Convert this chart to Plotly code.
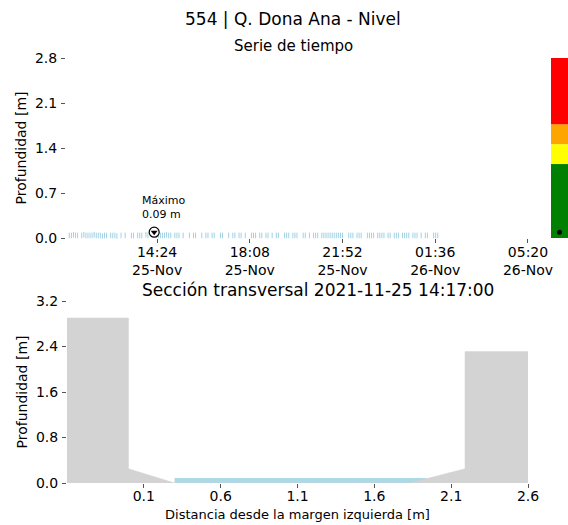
import pandas as pd
import plotly.graph_objects as go

# ---------------- data ----------------
title_main = "554 | Q. Dona Ana - Nivel"
title_ts = "Serie de tiempo"
title_xs = "Sección transversal 2021-11-25 14:17:00"

# time series (5-min sampling from 2021-11-25 10:42)
ts_start = "2021-11-25 10:42"
ts_values = [
    0.01, None, 0.04, 0.04, 0.05, 0.04, 0.04, None, 0.04, 0.05, 0.04, 0.04,
    0.04, 0.04, 0.05, 0.04, 0.04, 0.04, 0.03, 0.04, 0.04, None, 0.04, 0.04,
    0.04, 0.03, None, 0.04, None, 0.04, None, None, 0.04, 0.04, None, 0.04,
    0.04, 0.04, None, 0.05, 0.04, None, None, 0.09, 0.05, 0.04, 0.04, 0.04,
    0.04, 0.05, 0.04, 0.04, None, 0.04, 0.04, 0.04, None, 0.04, None, None,
    0.04, None, 0.04, 0.04, None, None, 0.04, None, 0.04, 0.04, None, 0.04,
    0.04, None, None, 0.04, 0.04, None, None, 0.04, None, 0.04, 0.04, None,
    0.04, 0.04, None, 0.04, None, None, 0.04, 0.04, 0.04, None, 0.04, 0.04,
    None, 0.04, 0.04, None, 0.04, None, 0.04, 0.04, None, None, 0.04, 0.04,
    0.04, None, 0.04, 0.04, 0.04, None, None, 0.04, 0.04, None, 0.04, None,
    0.04, 0.04, 0.04, None, 0.04, 0.04, 0.04, 0.04, 0.04, 0.04, 0.04, 0.04,
    0.04, 0.04, 0.04, None, None, 0.04, 0.04, 0.04, None, 0.04, 0.04, 0.04,
    None, None, 0.04, 0.04, 0.04, 0.04, None, 0.04, 0.04, 0.04, 0.04, None,
    0.04, 0.04, None, 0.04, 0.04, 0.04, None, 0.04, 0.04, 0.04, 0.04, None,
    0.04, 0.04, 0.04, None, 0.04, None, 0.04, 0.04, None, None, 0.04, 0.04,
    0.04,
]
max_time = "2021-11-25 14:17"
max_value = 0.09

ts_tick_vals = ["2021-11-25 14:24", "2021-11-25 18:08", "2021-11-25 21:52",
                "2021-11-26 01:36", "2021-11-26 05:20"]
ts_tick_text = ["14:24<br>25-Nov", "18:08<br>25-Nov", "21:52<br>25-Nov",
                "01:36<br>26-Nov", "05:20<br>26-Nov"]
ts_range = ["2021-11-25 10:44", "2021-11-26 05:49"]
ts_y_ticks = [0.0, 0.7, 1.4, 2.1, 2.8]

# alert levels (colour bar)
level_bounds = [0.0, 1.15, 1.46, 1.77, 2.8]
level_colors = ["green", "yellow", "orange", "red"]

# cross section
terrain_x = [-0.4, 0.0, 0.0, 0.3, 1.83, 2.19, 2.19, 2.6]
terrain_y = [2.9, 2.9, 0.25, 0.0, 0.0, 0.25, 2.31, 2.31]
water_x = [0.3, 1.94]
water_level = 0.09
xs_x_ticks = [0.1, 0.6, 1.1, 1.6, 2.1, 2.6]
xs_y_ticks = [0.0, 0.8, 1.6, 2.4, 3.2]

# ---------------- figure ----------------
W, H = 568, 525
def px_x(p): return p / W
def px_y(p): return 1 - p / H

ts_times = pd.date_range(ts_start, periods=len(ts_values), freq="5min")

fig = go.Figure()

fig.add_trace(go.Scatter(
    x=ts_times, y=ts_values, mode="markers", xaxis="x", yaxis="y",
    marker=dict(symbol="line-ns", size=4, line=dict(width=1, color="#9fd2e4"), color="#9fd2e4"),
    cliponaxis=False, hoverinfo="skip"))

fig.add_trace(go.Scatter(
    x=[max_time], y=[max_value], mode="markers", xaxis="x", yaxis="y",
    marker=dict(symbol="circle", size=10, color="white", line=dict(width=1.2, color="black")),
    cliponaxis=False))
fig.add_trace(go.Scatter(
    x=[max_time], y=[max_value], mode="markers", xaxis="x", yaxis="y",
    marker=dict(symbol="triangle-down", size=6, color="black"),
    cliponaxis=False))

# colour bar of alert levels
for lo, hi, c in zip(level_bounds[:-1], level_bounds[1:], level_colors):
    fig.add_trace(go.Bar(x=[0], y=[hi - lo], base=[lo], width=1, marker=dict(color=c, line=dict(width=0)),
                         xaxis="x3", yaxis="y3"))
fig.add_trace(go.Scatter(x=[0], y=[max_value], mode="markers", xaxis="x3", yaxis="y3",
                         marker=dict(size=5, color="black"), cliponaxis=False))

# cross section
fig.add_trace(go.Scatter(x=water_x, y=[water_level] * len(water_x), xaxis="x2", yaxis="y2",
                         mode="lines", fill="tozeroy", fillcolor="lightblue",
                         line=dict(width=0, color="lightblue")))
fig.add_trace(go.Scatter(x=terrain_x, y=terrain_y, xaxis="x2", yaxis="y2",
                         mode="lines", fill="tozeroy", fillcolor="lightgray",
                         line=dict(width=0.5, color="lightgray")))

tick_common = dict(showgrid=False, zeroline=False, showline=False, ticks="outside",
                   ticklen=4, tickwidth=1, tickcolor="#555", automargin=False,
                   tickfont=dict(size=14, color="black"))

fig.update_layout(
    template="none",
    width=W, height=H, margin=dict(l=0, r=0, t=0, b=0, pad=0),
    paper_bgcolor="white", plot_bgcolor="white", showlegend=False,
    font=dict(family="DejaVu Sans", color="black"),
    barmode="overlay",
    xaxis=dict(domain=[px_x(66), px_x(540)], anchor="y", type="date", range=ts_range,
               tickmode="array", tickvals=ts_tick_vals, ticktext=ts_tick_text,
               ticklabelstandoff=-3, **tick_common),
    yaxis=dict(domain=[px_y(238), px_y(58)], anchor="x", range=[0, 2.8],
               tickmode="array", tickvals=ts_y_ticks, ticktext=[f"{v:.1f}" for v in ts_y_ticks],
               ticklabelstandoff=1,
               title=dict(text="Profundidad [m]", font=dict(size=14), standoff=5), **tick_common),
    xaxis2=dict(domain=[px_x(67), px_x(528)], anchor="y2", range=[-0.4, 2.6],
                tickmode="array", tickvals=xs_x_ticks, ticktext=[f"{v:.1f}" for v in xs_x_ticks],
                ticklabelstandoff=-4,
                title=dict(text="Distancia desde la margen izquierda [m]", font=dict(size=13), standoff=7),
                **tick_common),
    yaxis2=dict(domain=[px_y(483), px_y(301)], anchor="x2", range=[0, 3.2],
                tickmode="array", tickvals=xs_y_ticks, ticktext=[f"{v:.1f}" for v in xs_y_ticks],
                ticklabelstandoff=1,
                title=dict(text="Profundidad [m]", font=dict(size=14), standoff=5), **tick_common),
    xaxis3=dict(domain=[px_x(551), 1.0], anchor="y3", range=[-0.5, 0.5], visible=False),
    yaxis3=dict(domain=[px_y(238), px_y(58)], anchor="x3", range=[0, 2.8], visible=False),
)

fig.add_annotation(text=title_main, xref="paper", yref="paper", x=px_x(292.5), y=px_y(19),
                   xanchor="center", yanchor="middle", showarrow=False, font=dict(size=17))
fig.add_annotation(text=title_ts, xref="paper", yref="paper", x=px_x(293), y=px_y(46),
                   xanchor="center", yanchor="middle", showarrow=False, font=dict(size=15))
fig.add_annotation(text=title_xs, xref="paper", yref="paper", x=px_x(318.5), y=px_y(290),
                   xanchor="center", yanchor="middle", showarrow=False, font=dict(size=17))
fig.add_annotation(text="Máximo<br>%.2f m" % max_value, xref="x", yref="y", x=max_time, y=max_value,
                   xanchor="left", yanchor="bottom", xshift=-14, yshift=9, align="left",
                   showarrow=False, font=dict(size=11))

fig.write_html("out.html", config={"displayModeBar": False},
               post_script="document.body.style.margin='0';")
